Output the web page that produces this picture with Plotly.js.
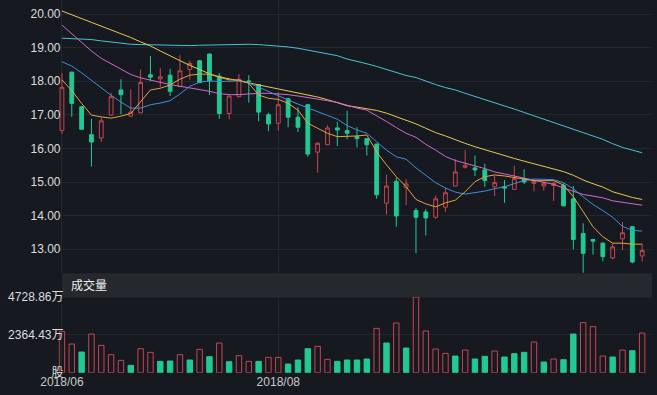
<!DOCTYPE html>
<html>
<head>
<meta charset="utf-8">
<script src="https://cdn.plot.ly/plotly-3.0.1.min.js"></script>
<style>
html,body{margin:0;padding:0;background:#161a20;}
#chart{width:657px;height:395px;}
</style>
</head>
<body>
<div id="chart"></div>
<script>
// ---- data ----
const openP  = [16.53,18.27,17.24,16.41,16.31,16.99,17.74,16.96,17.06,18.19,18.07,18.18,17.84,18.35,18.61,18.81,18.15,17.04,17.54,18.01,
                17.90,17.00,16.75,17.48,16.93,17.30,15.89,16.11,16.61,16.53,16.35,16.29,16.13,14.37,15.02,14.84,14.15,14.11,13.95,14.25,
                14.88,15.44,15.42,15.36,14.86,14.86,14.78,15.10,14.96,14.88,14.90,14.90,14.50,13.47,13.29,13.18,12.74,13.31,13.67,12.80];
const highP  = [18.24,18.28,17.26,16.88,16.93,17.66,18.06,17.76,18.35,18.75,18.39,18.37,18.77,18.61,18.62,18.82,18.24,17.56,18.21,18.18,
                17.91,17.06,17.68,17.49,17.22,17.31,16.19,16.69,16.79,17.12,16.63,16.30,16.14,15.22,15.14,15.08,14.23,14.19,14.60,14.82,
                15.68,15.95,15.79,15.54,15.18,15.06,15.48,15.38,15.06,15.02,15.00,14.96,14.88,13.77,13.30,13.20,13.18,13.81,13.68,13.15];
const lowP   = [16.43,16.94,16.55,15.46,16.19,16.98,17.02,16.93,17.05,18.00,17.82,17.56,17.83,18.04,17.94,17.59,16.88,16.87,17.52,17.36,
                16.81,16.51,16.53,16.63,16.49,15.75,15.28,16.10,16.07,16.27,16.03,15.79,14.50,14.03,13.67,14.31,12.88,13.41,13.91,14.11,
                14.87,15.40,15.18,14.86,14.58,14.38,14.78,14.94,14.72,14.74,14.44,14.28,13.00,12.30,12.84,12.64,12.70,12.98,12.58,12.64];
const closeP = [17.82,17.34,16.57,16.19,16.82,17.54,17.60,17.08,17.96,18.12,18.13,17.70,18.31,18.53,17.96,18.01,17.04,17.56,18.06,17.99,
                17.08,16.73,17.30,16.93,16.63,15.83,16.15,16.61,16.55,16.45,16.29,16.11,14.62,14.88,13.99,14.94,13.95,13.93,14.50,14.68,
                15.30,15.50,15.36,15.04,14.98,14.82,15.10,15.00,15.02,14.96,14.96,14.29,13.29,12.88,13.24,12.78,13.07,13.49,12.62,12.96];

const ma5  = [18.04,17.72,17.34,16.99,16.94,16.90,16.96,17.04,17.39,17.74,17.79,17.89,18.06,18.18,18.21,18.21,18.12,18.04,18.04,17.94,
              17.59,17.49,17.46,17.34,17.14,16.75,16.60,16.45,16.35,16.35,16.37,16.40,15.90,15.51,15.16,14.86,14.48,14.35,14.26,14.38,
              14.46,14.71,15.01,15.16,15.21,15.18,15.14,15.08,15.04,15.04,15.04,14.91,14.56,14.12,13.67,13.37,13.18,13.18,13.15,13.15];
const ma10 = [18.58,18.45,18.25,18.02,17.79,17.58,17.38,17.20,17.20,17.30,17.35,17.42,17.62,17.85,17.97,18.01,17.99,18.00,18.01,17.95,
              17.82,17.68,17.56,17.44,17.32,17.20,17.09,16.98,16.87,16.68,16.55,16.45,16.20,15.95,15.75,15.68,15.42,15.20,14.98,14.82,
              14.70,14.64,14.68,14.73,14.80,14.86,14.95,15.05,15.09,15.09,15.07,14.98,14.80,14.56,14.33,14.15,13.95,13.68,13.56,13.54];
const ma20 = [19.67,19.42,19.17,18.90,18.68,18.52,18.37,18.20,18.10,18.03,17.97,17.90,17.85,17.80,17.76,17.70,17.63,17.60,17.60,17.63,
              17.64,17.64,17.63,17.60,17.56,17.52,17.48,17.42,17.37,17.28,17.20,17.14,16.98,16.80,16.62,16.45,16.33,16.12,15.95,15.76,
              15.64,15.57,15.48,15.40,15.30,15.24,15.18,15.11,15.05,15.00,14.93,14.82,14.72,14.63,14.58,14.53,14.44,14.39,14.34,14.31];
const ma30 = [20.09,19.98,19.87,19.76,19.65,19.54,19.42,19.30,19.17,19.05,18.90,18.75,18.60,18.47,18.35,18.22,18.13,18.07,18.01,17.95,
              17.88,17.82,17.77,17.72,17.66,17.60,17.53,17.45,17.36,17.27,17.23,17.18,17.13,17.05,16.95,16.84,16.73,16.60,16.47,16.37,
              16.25,16.15,16.05,15.96,15.86,15.77,15.70,15.62,15.54,15.47,15.40,15.31,15.20,15.06,14.95,14.85,14.71,14.62,14.54,14.48];
const ma60 = [19.28,19.27,19.26,19.24,19.20,19.16,19.13,19.10,19.09,19.08,19.07,19.07,19.06,19.06,19.07,19.08,19.09,19.10,19.10,19.10,
              19.09,19.07,19.04,19.02,18.98,18.93,18.88,18.82,18.76,18.66,18.60,18.52,18.44,18.35,18.25,18.17,18.11,18.00,17.90,17.81,
              17.74,17.64,17.55,17.46,17.37,17.27,17.17,17.07,16.97,16.86,16.75,16.66,16.56,16.45,16.36,16.27,16.14,16.03,15.95,15.87];

// volume in 万股, and bar direction (1 = red hollow, -1 = green filled)
const volume = [2583,1791,1292,2416,1708,1125,771,458,1500,1271,708,729,1125,792,1458,1000,1854,687,1062,708,
                708,958,958,542,792,1500,1646,833,708,792,792,854,2770,1854,3104,1541,4728.86,2604,1479,1208,
                1042,1416,854,1021,1354,979,1187,1271,1916,667,854,812,2416,3125,2875,1042,979,1416,1375,2479];
const volDir = [1,1,-1,1,1,1,1,-1,1,1,-1,-1,1,-1,1,-1,1,-1,1,1,
                -1,1,1,-1,-1,-1,1,1,-1,-1,-1,-1,1,-1,1,-1,1,1,1,1,
                -1,1,-1,-1,1,-1,-1,-1,1,-1,1,-1,-1,1,1,1,-1,1,-1,1];

const xTickIdx = [0, 22];
const xTickText = ['2018/06', '2018/08'];
const priceTicks = [13, 14, 15, 16, 17, 18, 19, 20];
const volTicks = [0, 2364.43, 4728.86];
const volTickText = ['股', '2364.43万', '4728.86万'];
const volTitle = '成交量';

// ---- styling ----
const RED = '#c8454f';
const GREEN = '#22c993';
const BG = '#161a20';
const GRID = '#22272e';
const FONT = 'Liberation Sans, Arial, Noto Sans CJK SC, sans-serif';

const idx = openP.map((_, i) => i);
const W = 657, H = 395;
const px = v => v / W;
const py = v => (H - v) / H;

const traces = [
  {
    type: 'candlestick', x: idx, open: openP, high: highP, low: lowP, close: closeP,
    xaxis: 'x', yaxis: 'y', whiskerwidth: 0,
    increasing: {line: {color: RED, width: 1}, fillcolor: 'rgba(0,0,0,0)'},
    decreasing: {line: {color: GREEN, width: 1}, fillcolor: GREEN},
    hoverinfo: 'skip', showlegend: false
  },
  {type: 'scatter', mode: 'lines', x: idx, y: ma60, line: {color: '#47c2d4', width: 1}, hoverinfo: 'skip', showlegend: false},
  {type: 'scatter', mode: 'lines', x: idx, y: ma30, line: {color: '#e6c94b', width: 1}, hoverinfo: 'skip', showlegend: false},
  {type: 'scatter', mode: 'lines', x: idx, y: ma20, line: {color: '#d168cc', width: 1}, hoverinfo: 'skip', showlegend: false},
  {type: 'scatter', mode: 'lines', x: idx, y: ma10, line: {color: '#3f8fdc', width: 1}, hoverinfo: 'skip', showlegend: false},
  {type: 'scatter', mode: 'lines', x: idx, y: ma5,  line: {color: '#e8a23e', width: 1}, hoverinfo: 'skip', showlegend: false},
  {
    type: 'bar', x: idx, y: volume, xaxis: 'x2', yaxis: 'y2',
    marker: {
      color: volDir.map(d => d > 0 ? 'rgba(0,0,0,0)' : GREEN),
      line: {color: volDir.map(d => d > 0 ? RED : GREEN), width: 1}
    },
    hoverinfo: 'skip', showlegend: false
  }
];

const xRange = [-0.35, 60];
const layout = {
  width: W, height: H,
  margin: {l: 0, r: 0, t: 0, b: 0, pad: 0},
  paper_bgcolor: BG, plot_bgcolor: BG,
  font: {family: FONT, size: 12, color: '#d8d8d8'},
  showlegend: false,
  bargap: 0.45,
  boxgap: 0.45,
  xaxis: {
    domain: [px(58.5), px(652)], range: xRange, anchor: 'y',
    tickmode: 'array', tickvals: xTickIdx, showticklabels: false,
    showgrid: true, gridcolor: GRID, gridwidth: 1, zeroline: false, showline: false, ticks: '',
    rangeslider: {visible: false}
  },
  yaxis: {
    domain: [py(273), 1], range: [12.292, 20.417], anchor: 'x',
    tickmode: 'array', tickvals: priceTicks, tickformat: '.2f',
    showgrid: true, gridcolor: GRID, gridwidth: 1, zeroline: false, showline: false, ticks: '',
    ticklabelstandoff: -3,
    tickfont: {family: FONT, size: 12, color: '#dcdcdc'}
  },
  xaxis2: {
    domain: [px(58.5), px(652)], range: xRange, anchor: 'y2',
    tickmode: 'array', tickvals: xTickIdx, ticktext: xTickText,
    showgrid: true, gridcolor: GRID, gridwidth: 1, zeroline: false, showline: false, ticks: '',
    tickfont: {family: FONT, size: 12, color: '#c9c9c9'}
  },
  yaxis2: {
    domain: [py(372.7), py(297)], range: [0, 4728.86], anchor: 'x2',
    tickmode: 'array', tickvals: volTicks, ticktext: volTickText,
    showgrid: true, gridcolor: GRID, gridwidth: 1, zeroline: false, showline: false, ticks: '',
    ticklabelstandoff: -6,
    tickfont: {family: FONT, size: 12, color: '#dcdcdc'}
  },
  shapes: [
    {type: 'rect', xref: 'paper', yref: 'paper', x0: px(62), x1: px(652), y0: py(297.5), y1: py(273.3),
     fillcolor: '#25282d', line: {width: 0}, layer: 'below'}
  ],
  annotations: [
    {xref: 'paper', yref: 'paper', x: px(69), y: py(285.5), xanchor: 'left', yanchor: 'middle',
     text: volTitle, showarrow: false, font: {family: FONT, size: 12, color: '#f0f0f0'}}
  ]
};

Plotly.newPlot('chart', traces, layout, {displayModeBar: false, staticPlot: true});
</script>
</body>
</html>
